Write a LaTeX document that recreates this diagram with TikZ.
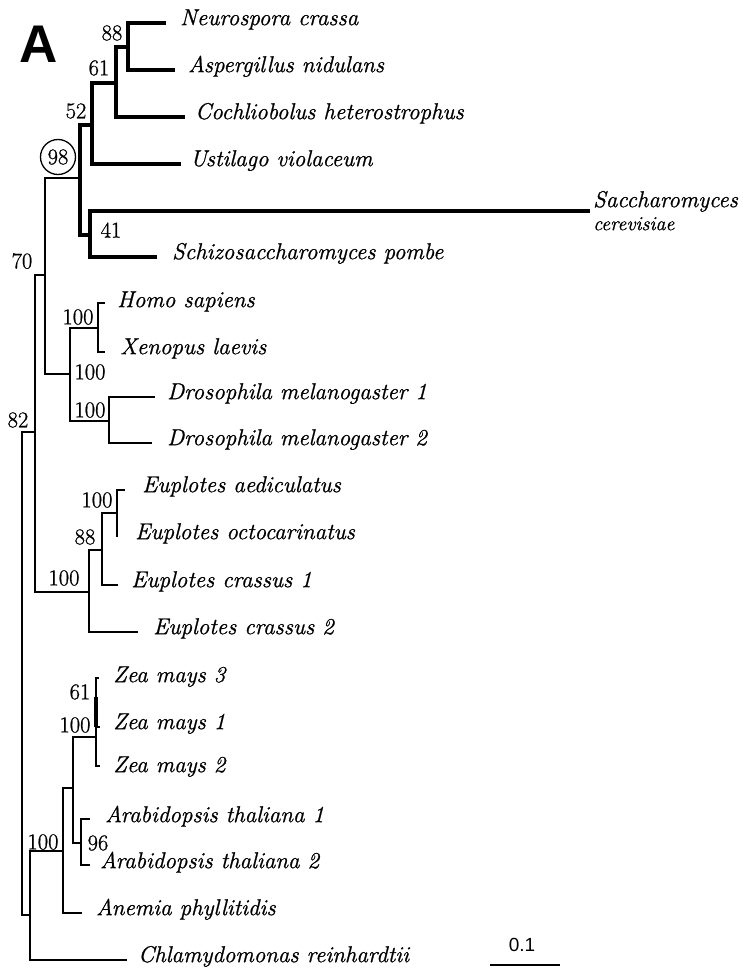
\documentclass[tikz,border=0pt]{standalone}
\usepackage{fontspec}
\newfontfamily\labelsans{Liberation Sans}
\newfontfamily\treefont{Latin Modern Roman}[FakeBold=0.9,ItalicFeatures={FakeBold=0.9}]
\begin{document}
\begin{tikzpicture}[x=1pt,y=-1pt,
  br/.style={line width=1.8pt},
  fbr/.style={line width=3.2pt},
  taxon/.style={anchor=mid west,inner sep=0pt,font=\treefont\fontsize{23}{26}\selectfont\itshape},
  bs/.style={inner sep=0pt,font=\treefont\fontsize{22.5}{25}\selectfont},
]
\useasboundingbox[fill=white] (0,0) rectangle (743,971);

% panel letter
\node[anchor=base west,inner sep=0pt,font=\labelsans\bfseries\fontsize{53}{56}\selectfont] (panel) at (19,63) {A};

% internal nodes
\coordinate (n88) at (128,47);
\coordinate (n61) at (116,83);
\coordinate (n52) at (92,125);
\coordinate (n41) at (90,235);
\coordinate (n98) at (80,178);
\coordinate (nHX) at (98,328);
\coordinate (nDr) at (109,421);
\coordinate (nAn) at (70,374);
\coordinate (n70) at (45,275);
\coordinate (nEa) at (117,513);
\coordinate (nE88) at (102,550);
\coordinate (nE100) at (89,592);
\coordinate (nMid) at (35,432);
\coordinate (nZea) at (96,737);
\coordinate (nZ61a) at (96,697);
\coordinate (nZ61b) at (96,727);
\coordinate (nAr) at (81,843);
\coordinate (nZA) at (73,788);
\coordinate (nPl) at (63,851);
\coordinate (nPC) at (30,915);
\coordinate (root) at (22,673);

% tips
\coordinate (tNeu) at (166,23);
\coordinate (tAsp) at (175,70);
\coordinate (tCoc) at (185,117);
\coordinate (tUst) at (181,164);
\coordinate (tSac) at (590,211);
\coordinate (tSch) at (157,257);
\coordinate (tHom) at (105,303);
\coordinate (tXen) at (105,352);
\coordinate (tD1) at (155,397);
\coordinate (tD2) at (152,443);
\coordinate (tEae) at (125,490);
\coordinate (tEoc) at (117,537);
\coordinate (tEc1) at (118,585);
\coordinate (tEc2) at (138,632);
\coordinate (tZ3) at (99,678);
\coordinate (tZ1) at (100,727);
\coordinate (tZ2) at (100,766);
\coordinate (tA1) at (90,819);
\coordinate (tA2) at (90,865);
\coordinate (tAne) at (82,913);
\coordinate (tChl) at (127,960);

% fungal branches (thick)
\draw[fbr] (n88) |- (tNeu);
\draw[fbr] (n88) |- (tAsp);
\draw[fbr] (n61) |- (n88);
\draw[fbr] (n61) |- (tCoc);
\draw[fbr] (n52) |- (n61);
\draw[fbr] (n52) |- (tUst);
\draw[fbr] (n41) |- (tSac);
\draw[fbr] (n41) |- (tSch);
\draw[fbr] (n98) |- (n52);
\draw[fbr] (n98) |- (n41);

% other branches
\draw[br] (n70) |- (n98);
\draw[br] (n70) |- (nAn);
\draw[br] (nAn) |- (nHX);
\draw[br] (nAn) |- (nDr);
\draw[br] (nHX) |- (tHom);
\draw[br] (nHX) |- (tXen);
\draw[br] (nDr) |- (tD1);
\draw[br] (nDr) |- (tD2);
\draw[br] (nMid) |- (n70);
\draw[br] (nMid) |- (nE100);
\draw[br] (nE100) |- (nE88);
\draw[br] (nE100) |- (tEc2);
\draw[br] (nE88) |- (nEa);
\draw[br] (nE88) |- (tEc1);
\draw[br] (nEa) |- (tEae);
\draw[br] (nEa) |- (tEoc);
\draw[br] (root) |- (nMid);
\draw[br] (root) |- (nPC);
\draw[br] (nPC) |- (nPl);
\draw[br] (nPC) |- (tChl);
\draw[br] (nPl) |- (nZA);
\draw[br] (nPl) |- (tAne);
\draw[br] (nZA) |- (nZea);
\draw[br] (nZA) |- (nAr);
\draw[br] (nZea) |- (tZ3);
\draw[br] (nZea) |- (tZ1);
\draw[br] (nZea) |- (tZ2);
\draw[fbr] (nZ61a) -- (nZ61b);
\draw[br] (nAr) |- (tA1);
\draw[br] (nAr) |- (tA2);

% taxon labels
\node[taxon] (lNeu) at (180,23) {Neurospora crassa};
\node[taxon] (lAsp) at (188,70) {Aspergillus nidulans};
\node[taxon] (lCoc) at (195,117) {Cochliobolus heterostrophus};
\node[taxon] (lUst) at (190,164) {Ustilago violaceum};
\node[taxon] (lSac) at (593,205) {Saccharomyces};
\node[taxon,font=\treefont\fontsize{20}{23}\selectfont\itshape] (lSac2) at (593,228) {cerevisiae};
\node[taxon] (lSch) at (172,257) {Schizosaccharomyces pombe};
\node[taxon] (lHom) at (117,305) {Homo sapiens};
\node[taxon] (lXen) at (120,352) {Xenopus laevis};
\node[taxon] (lD1) at (167,397) {Drosophila melanogaster 1};
\node[taxon] (lD2) at (167,443) {Drosophila melanogaster 2};
\node[taxon] (lEae) at (142,490) {Euplotes aediculatus};
\node[taxon] (lEoc) at (135,537) {Euplotes octocarinatus};
\node[taxon] (lEc1) at (131,585) {Euplotes crassus 1};
\node[taxon] (lEc2) at (153,632) {Euplotes crassus 2};
\node[taxon] (lZ3) at (113,680) {Zea mays 3};
\node[taxon] (lZ1) at (113,727) {Zea mays 1};
\node[taxon] (lZ2) at (113,770) {Zea mays 2};
\node[taxon] (lA1) at (105,820) {Arabidopsis thaliana 1};
\node[taxon] (lA2) at (100,866) {Arabidopsis thaliana 2};
\node[taxon] (lAne) at (96,913) {Anemia phyllitidis};
\node[taxon] (lChl) at (138,960) {Chlamydomonas reinhardtii};

% bootstrap values
\node[bs] (b88) at (112,33) {88};
\node[bs] (b61) at (99,68) {61};
\node[bs] (b52) at (76,111) {52};
\node[bs,draw,circle,line width=1.3pt,minimum size=35pt] (b98) at (58,157) {98};
\node[bs] (b41) at (111,230) {41};
\node[bs] (b70) at (22,261) {70};
\node[bs] (bHX) at (78,317) {100};
\node[bs] (bAn) at (90,372) {100};
\node[bs] (bDr) at (90,410) {100};
\node[bs] (b82) at (18,420) {82};
\node[bs] (bEa) at (97,500) {100};
\node[bs] (bE88) at (85,537) {88};
\node[bs] (bE100) at (64,578) {100};
\node[bs] (bZ61) at (80,692) {61};
\node[bs] (bZ100) at (75,725) {100};
\node[bs] (b96) at (98,843) {96};
\node[bs] (bPl) at (43,842) {100};

% scale bar
\coordinate (sbL) at (490,965);
\coordinate (sbR) at (560,965);
\draw[br] (sbL) -- (sbR);
\node[inner sep=0pt,font=\labelsans\fontsize{19}{22}\selectfont] (sbt) at (522,945) {0.1};
\end{tikzpicture}
\end{document}
